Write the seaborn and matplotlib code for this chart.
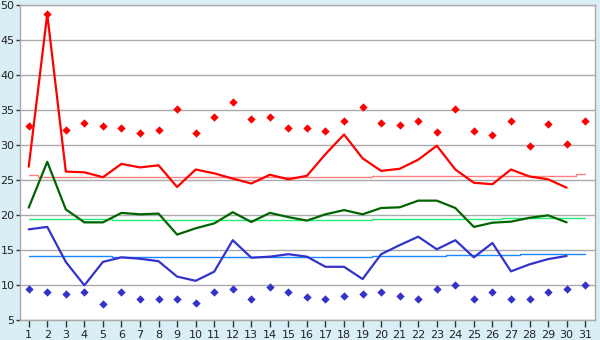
import matplotlib
matplotlib.use("Agg")
import matplotlib.pyplot as plt
import seaborn as sns
import pandas as pd

days = list(range(1, 32))
day_labels = [str(d) for d in days]

max_temp = [26.9, 48.7, 26.2, 26.1, 25.4, 27.3, 26.8, 27.1, 24.0, 26.5,
            25.95, 25.2, 24.5, 25.75, 25.1, 25.6, 28.7, 31.5, 28.1, 26.3,
            26.6, 27.9, 29.9, 26.5, 24.6, 24.4, 26.5, 25.5, 25.1, 23.9]
mean_temp = [21.05, 27.6, 20.8, 18.95, 18.95, 20.3, 20.1, 20.2, 17.2, 18.1,
             18.8, 20.4, 19.0, 20.3, 19.7, 19.2, 20.1, 20.7, 20.1, 21.0,
             21.1, 22.05, 22.05, 21.0, 18.3, 18.9, 19.05, 19.6, 19.95, 18.95]
min_temp = [17.95, 18.3, 13.3, 9.95, 13.3, 13.95, 13.75, 13.4, 11.2, 10.6,
            11.9, 16.4, 13.9, 14.05, 14.4, 14.05, 12.6, 12.6, 10.85, 14.4,
            15.7, 16.9, 15.1, 16.4, 13.95, 16.0, 11.95, 12.95, 13.7, 14.15]
record_max = [32.7, 48.7, 32.1, 33.2, 32.7, 32.4, 31.7, 32.1, 35.2, 31.7,
              33.95, 36.1, 33.7, 34.0, 32.4, 32.4, 31.95, 33.4, 35.4, 33.1,
              32.8, 33.4, 31.8, 35.2, 31.95, 31.4, 33.4, 29.8, 32.95, 30.2, 33.4]
record_min = [9.4, 8.95, 8.7, 8.95, 7.25, 8.95, 7.95, 7.95, 7.95, 7.5,
              8.95, 9.5, 7.95, 9.65, 8.95, 8.25, 7.95, 8.4, 8.7, 8.95,
              8.4, 7.95, 9.4, 9.95, 7.95, 8.95, 7.95, 7.95, 8.95, 9.4, 9.95]
normal_max = [25.7] + [25.5] * 5 + [25.4] * 13 + [25.57] * 11 + [25.86]
normal_mean = [19.38] * 5 + [19.24] * 14 + [19.38] * 7 + [19.6] * 5
normal_min = [14.1] * 5 + [13.95] * 14 + [14.1] * 4 + [14.25] * 4 + [14.4] * 4

sns.set_theme(style="white")
plt.rcParams['font.family'] = ['DejaVu Sans']

bg = "#daeef5"
fig = plt.figure(figsize=(6, 3.4), dpi=100, facecolor=bg)
ax = fig.add_axes([20 / 600, 20 / 340, 575 / 600, 315 / 340])
ax.set_facecolor("white")

d30 = days[:30]
df_n = pd.DataFrame({"day": days, "nmax": normal_max, "nmean": normal_mean, "nmin": normal_min,
                     "rmax": record_max, "rmin": record_min})
df_l = pd.DataFrame({"day": d30, "max": max_temp, "mean": mean_temp, "min": min_temp})

sns.lineplot(data=df_n, x="day", y="nmax", ax=ax, color="#ff8080", lw=1.0, drawstyle="steps-mid", zorder=2)
sns.lineplot(data=df_n, x="day", y="nmean", ax=ax, color="#22ee77", lw=1.0, drawstyle="steps-mid", zorder=2)
sns.lineplot(data=df_n, x="day", y="nmin", ax=ax, color="#1a88ff", lw=1.0, drawstyle="steps-mid", zorder=2)

sns.lineplot(data=df_l, x="day", y="max", ax=ax, color="#ff0000", lw=1.6, zorder=3)
sns.lineplot(data=df_l, x="day", y="mean", ax=ax, color="#006400", lw=1.6, zorder=3)
sns.lineplot(data=df_l, x="day", y="min", ax=ax, color="#3333cc", lw=1.6, zorder=3)

sns.scatterplot(data=df_n, x="day", y="rmax", ax=ax, color="#ff0000", marker="D", s=18,
                linewidth=0, zorder=4)
sns.scatterplot(data=df_n, x="day", y="rmin", ax=ax, color="#3333cc", marker="D", s=18,
                linewidth=0, zorder=4)

ax.set_xlim(0.53, 31.53)
ax.set_ylim(5, 50)
ax.set_xticks(days)
ax.set_xticklabels(day_labels)
ax.set_yticks(range(5, 51, 5))
ax.yaxis.grid(True, color="#aaaaaa", lw=1.0)
ax.xaxis.grid(False)
ax.set_axisbelow(True)
ax.set_xlabel("")
ax.set_ylabel("")
for s in ax.spines.values():
    s.set_color("#aaaaaa")
    s.set_linewidth(1.0)
ax.tick_params(axis="x", bottom=True, length=5, width=1, color="#333333",
               labelsize=8, pad=2, labelcolor="#222222")
ax.tick_params(axis="y", left=True, length=3, width=1, color="#333333",
               labelsize=8, pad=1, labelcolor="#222222")

fig.savefig("out.png", dpi=100, facecolor=bg)
